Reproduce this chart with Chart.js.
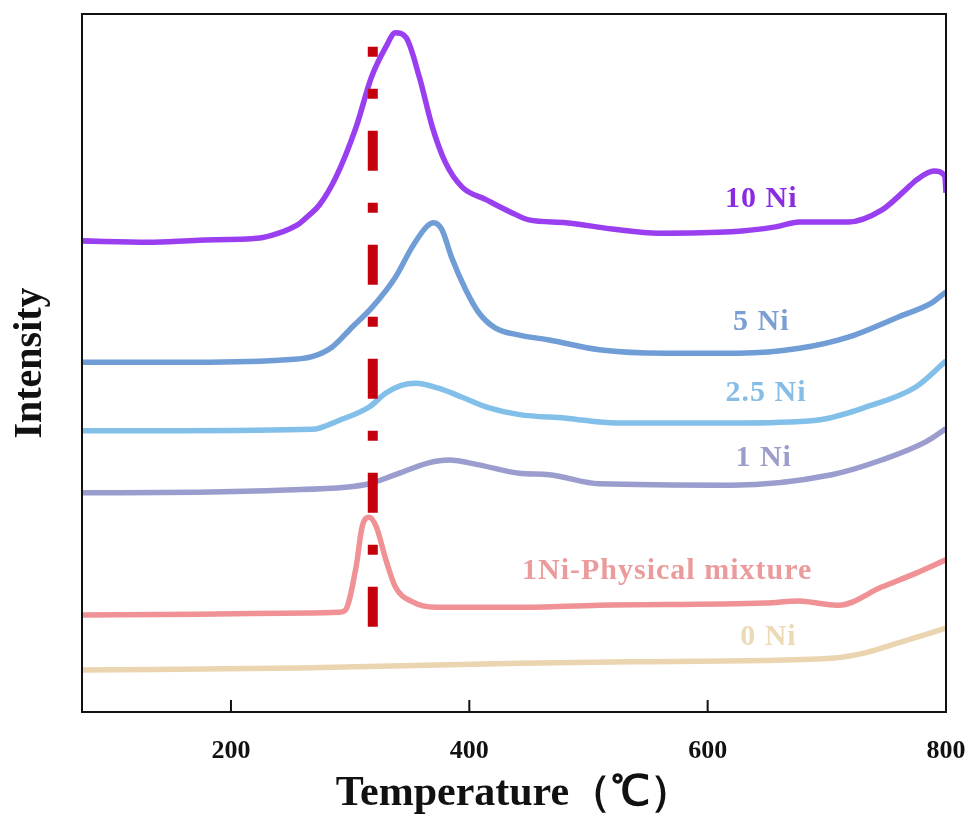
<!DOCTYPE html>
<html>
<head>
<meta charset="utf-8">
<script src="https://cdn.jsdelivr.net/npm/chart.js@4.4.1/dist/chart.umd.min.js"></script>
<style>
  html, body { margin: 0; padding: 0; background: #fff; }
</style>
</head>
<body>
<canvas id="tprChart" width="976" height="826"></canvas>
<script>
// H2-TPR profiles, temperature in degC, intensity in arbitrary units (0-100)
const xTicks = [200, 400, 600, 800];

const ni10T = [74, 131, 173, 224, 240, 249, 257, 265, 274, 288, 305, 318, 330, 338, 347, 358, 369, 380, 394, 414, 436, 450, 481, 520, 559, 620, 657, 677, 718, 746, 766, 775, 790, 799, 800];
const ni10I = [67.5, 67.3, 67.6, 67.9, 68.6, 69.2, 69.9, 71.1, 72.6, 76.6, 83.8, 91.0, 95.3, 97.3, 96.6, 91.0, 83.8, 78.7, 75.2, 73.4, 71.5, 70.5, 70.1, 69.2, 68.6, 68.8, 69.5, 70.2, 70.2, 71.9, 74.8, 76.2, 77.5, 76.8, 74.4];

const ni5T = [74, 156, 240, 268, 285, 302, 318, 338, 352, 364, 370, 377, 385, 397, 408, 422, 442, 467, 509, 565, 626, 677, 718, 760, 788, 800];
const ni5I = [50.1, 50.1, 50.4, 50.9, 52.3, 55.2, 57.9, 62.3, 66.6, 69.5, 70.1, 69.1, 65.2, 60.5, 57.2, 55.0, 54.0, 53.3, 51.9, 51.4, 51.4, 52.1, 53.7, 56.6, 58.6, 60.2];

const ni25T = [74, 156, 268, 291, 316, 330, 343, 355, 374, 394, 416, 442, 481, 523, 620, 691, 733, 775, 800];
const ni25I = [40.3, 40.3, 40.5, 41.8, 43.7, 45.7, 46.8, 47.1, 46.4, 45.1, 43.6, 42.6, 42.1, 41.4, 41.4, 41.8, 43.7, 46.6, 50.3];

const ni1T = [74, 173, 246, 296, 316, 338, 366, 383, 408, 442, 467, 509, 620, 704, 746, 783, 800];
const ni1I = [31.4, 31.5, 31.8, 32.2, 32.7, 34.0, 35.7, 36.1, 35.4, 34.2, 34.0, 32.7, 32.5, 34.0, 36.1, 38.7, 40.6];

const mixT = [74, 173, 268, 291, 296, 305, 310, 316, 322, 330, 338, 352, 372, 442, 509, 649, 677, 696, 710, 746, 775, 800];
const mixI = [13.9, 14.0, 14.2, 14.3, 14.6, 20.8, 26.5, 27.9, 26.5, 21.8, 17.9, 15.8, 15.0, 15.0, 15.3, 15.6, 15.9, 15.5, 15.3, 17.9, 19.9, 21.8];

const ni0T = [74, 257, 442, 536, 704, 733, 760, 800];
const ni0I = [6.0, 6.3, 7.0, 7.2, 7.7, 8.5, 9.9, 12.0];

// reference line at the reduction peak of the physical mixture
const refT = [319, 319];
const refI = [12.2, 95.3];

const seriesNames = ["10 Ni", "5 Ni", "2.5 Ni", "1 Ni", "1Ni-Physical mixture", "0 Ni"];

function pts(xs, ys){ return xs.map((x, i) => ({x: x, y: ys[i]})); }

const FONT = "'Liberation Serif', 'Times New Roman', serif";

// series label placement (data coords) and colours
const labelSpots = [
    {text: seriesNames[0], x: 645, y: 73.4, color: '#8a2be2'},
    {text: seriesNames[1], x: 645, y: 55.9, color: '#7b9fd4'},
    {text: seriesNames[2], x: 649, y: 45.7, color: '#86bde6'},
    {text: seriesNames[3], x: 647, y: 36.4, color: '#9d9dcc'},
    {text: seriesNames[4], x: 566, y: 20.2, color: '#eb9b9b'},
    {text: seriesNames[5], x: 651, y: 10.7, color: '#ecdab6'}
];

// frame, inside ticks and series labels
const decorPlugin = {
    id: 'decor',
    afterDraw(chart){
        const ctx = chart.ctx;
        const a = chart.chartArea;
        const xs = chart.scales.x, ys = chart.scales.y;
        ctx.save();
        ctx.strokeStyle = '#111';
        ctx.lineWidth = 2;
        ctx.strokeRect(a.left, a.top, a.right - a.left, a.bottom - a.top);
        ctx.beginPath();
        xTicks.forEach(t => {
            let px = xs.getPixelForValue(t);
            ctx.moveTo(px, a.bottom);
            ctx.lineTo(px, a.bottom - 12);
        });
        ctx.stroke();
        ctx.font = "bold 30px " + FONT;
        ctx.letterSpacing = '1px';
        ctx.textAlign = 'center';
        ctx.textBaseline = 'middle';
        labelSpots.forEach(l => {
            ctx.fillStyle = l.color;
            ctx.fillText(l.text, xs.getPixelForValue(l.x), ys.getPixelForValue(l.y));
        });
        ctx.restore();
    }
};

const lineStyle = {pointRadius: 0, fill: false, cubicInterpolationMode: 'monotone', borderWidth: 5.5, order: 1};

new Chart(document.getElementById('tprChart').getContext('2d'), {
    type: 'line',
    data: {
        datasets: [
            Object.assign({label: seriesNames[0], data: pts(ni10T, ni10I), borderColor: '#9a3ff0'}, lineStyle),
            Object.assign({label: seriesNames[1], data: pts(ni5T, ni5I), borderColor: '#709dd6'}, lineStyle),
            Object.assign({label: seriesNames[2], data: pts(ni25T, ni25I), borderColor: '#82bfe9'}, lineStyle),
            Object.assign({label: seriesNames[3], data: pts(ni1T, ni1I), borderColor: '#9a9dcd'}, lineStyle),
            Object.assign({label: seriesNames[4], data: pts(mixT, mixI), borderColor: '#ef9195'}, lineStyle),
            Object.assign({label: seriesNames[5], data: pts(ni0T, ni0I), borderColor: '#ebd4b0'}, lineStyle),
            {label: 'ref', data: pts(refT, refI), borderColor: '#c4000c', borderWidth: 10,
             borderDash: [40, 32, 10, 32], borderCapStyle: 'butt', pointRadius: 0, tension: 0, order: 0}
        ]
    },
    options: {
        responsive: false,
        animation: false,
        devicePixelRatio: 1,
        layout: {padding: {top: 14, right: 30, left: 0, bottom: 0}},
        plugins: {legend: {display: false}, tooltip: {enabled: false}},
        scales: {
            x: {
                type: 'linear',
                min: 75,
                max: 800,
                afterBuildTicks: s => { s.ticks = xTicks.map(v => ({value: v})); },
                afterFit: s => { s.height = 114; s.paddingRight = 0; s.paddingLeft = 0; },
                grid: {display: false, drawTicks: false},
                border: {display: false},
                ticks: {color: '#111', padding: 24, font: {family: FONT, size: 26, weight: 'bold'}},
                title: {display: true, text: 'Temperature（℃）', color: '#111', padding: {top: 0, bottom: 7},
                        font: {family: FONT, size: 42, weight: 'bold'}}
            },
            y: {
                min: 0,
                max: 100,
                afterFit: s => { s.width = 82; },
                grid: {display: false, drawTicks: false},
                border: {display: false},
                ticks: {display: false},
                title: {display: true, text: 'Intensity', color: '#111', padding: {top: 7, bottom: 0},
                        font: {family: FONT, size: 40, weight: 'bold'}}
            }
        }
    },
    plugins: [decorPlugin]
});
</script>
</body>
</html>
